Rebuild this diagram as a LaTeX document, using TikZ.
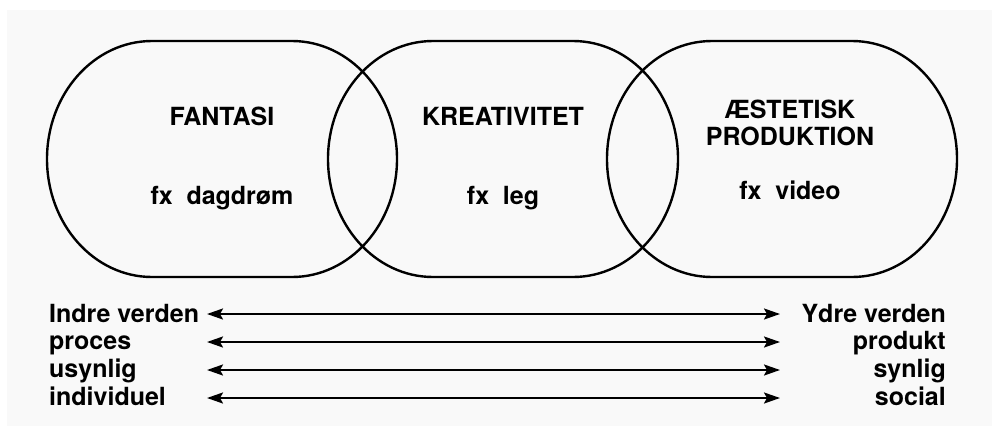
\documentclass[tikz,border=0pt]{standalone}
\usepackage{fontspec}
\setmainfont{TeX Gyre Heros}
\usetikzlibrary{arrows.meta}
\tikzset{
  blob/.style={line width=2.4pt, draw=black},
  lbl/.style={font=\fontsize{25}{28}\selectfont\bfseries, inner sep=0pt, anchor=base},
  conn/.style={line width=2.2pt, {Stealth[length=16pt,width=11pt,inset=3pt]}-{Stealth[length=16pt,width=11pt,inset=3pt]}}
}
\begin{document}
\begin{tikzpicture}[x=1pt,y=-1pt]
\useasboundingbox (0,0) rectangle (992,426);
\fill[white] (0,0) rectangle (992,426);
\fill[black!2.5] (7,10) rectangle (992,426);
% three stadium shapes
\foreach \cx in {222,503,782}{
  \draw[blob] (\cx-70,41) -- (\cx+70,41) arc[start angle=90,end angle=-90,x radius=105,y radius=-118]
     -- (\cx-70,277) arc[start angle=270,end angle=90,x radius=105,y radius=-118] -- cycle;
}
\node[lbl] (fantasi) at (222,125) {FANTASI};
\node[lbl] (dag) at (222,204) {fx\hspace{0.55em}dagdrøm};
\node[lbl] (kreat) at (503,125) {KREATIVITET};
\node[lbl] (leg) at (503,204) {fx\hspace{0.55em}leg};
\node[lbl] (aest) at (790,118) {ÆSTETISK};
\node[lbl] (prod) at (790,145) {PRODUKTION};
\node[lbl] (video) at (790,199) {fx\hspace{0.55em}video};
% bottom labels
\node[lbl,anchor=base west] (l1) at (49,322) {Indre verden};
\node[lbl,anchor=base west] (l2) at (49,349) {proces};
\node[lbl,anchor=base west] (l3) at (49,377) {usynlig};
\node[lbl,anchor=base west] (l4) at (49,405) {individuel};
\node[lbl,anchor=base east] (r1) at (946,322) {Ydre verden};
\node[lbl,anchor=base east] (r2) at (946,349) {produkt};
\node[lbl,anchor=base east] (r3) at (946,377) {synlig};
\node[lbl,anchor=base east] (r4) at (946,405) {social};
\foreach \i/\y in {1/314,2/342,3/370,4/398}{
  \coordinate (a\i) at (207,\y);
  \coordinate (b\i) at (780,\y);
  \draw[conn] (a\i) -- (b\i);
}
\end{tikzpicture}
\end{document}
